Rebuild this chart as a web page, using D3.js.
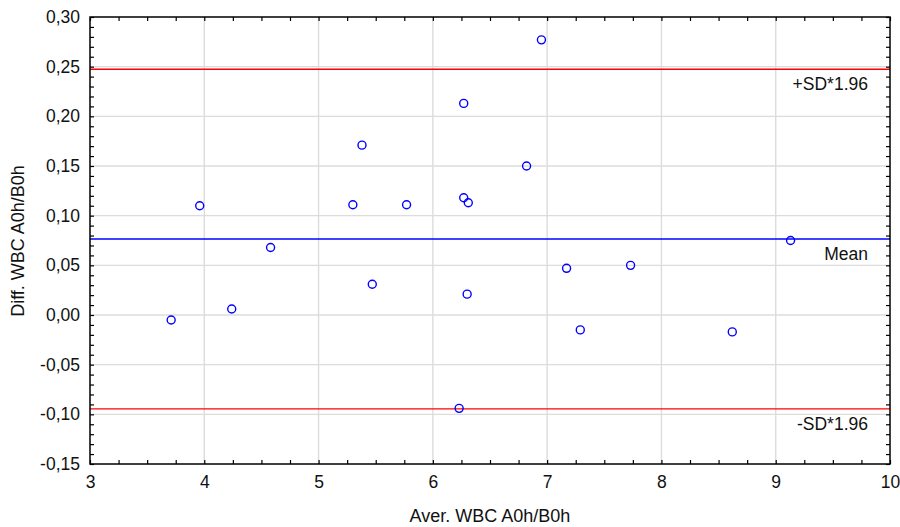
<!DOCTYPE html>
<html>
<head>
<meta charset="utf-8">
<script src="https://cdn.jsdelivr.net/npm/d3@7"></script>
<style>
  html, body { margin: 0; padding: 0; background: #fff; }
  svg { display: block; font-family: "Liberation Sans", Arial, sans-serif; }
</style>
</head>
<body>
<div id="chart"></div>
<script>
// ---- Data ----
const averWBC = [3.71, 3.96, 4.24, 4.58, 5.30, 5.38, 5.47, 5.77, 6.23, 6.27,
                 6.27, 6.31, 6.30, 6.82, 6.95, 7.17, 7.29, 7.73, 8.62, 9.13];
const diffWBC = [-0.005, 0.110, 0.006, 0.068, 0.111, 0.171, 0.031, 0.111, -0.094, 0.213,
                 0.118, 0.113, 0.021, 0.150, 0.277, 0.047, -0.015, 0.050, -0.017, 0.075];
const refLabels = ['+SD*1.96', 'Mean', '-SD*1.96'];
const refValues = [0.2474, 0.0765, -0.0945];
const refColors = ['#ff0000', '#0000ff', '#ff0000'];
const xTicks = [3, 4, 5, 6, 7, 8, 9, 10];
const yTicks = [-0.15, -0.10, -0.05, 0.00, 0.05, 0.10, 0.15, 0.20, 0.25, 0.30];
const xTitle = 'Aver. WBC A0h/B0h';
const yTitle = 'Diff. WBC A0h/B0h';

const W = 900, H = 527;
const margin = { top: 17, right: 10, bottom: 63, left: 90 };
const iw = W - margin.left - margin.right;
const ih = H - margin.top - margin.bottom;

const svg = d3.select('#chart').append('svg').attr('width', W).attr('height', H);
const g = svg.append('g').attr('transform', `translate(${margin.left},${margin.top})`);

const x = d3.scaleLinear().domain([3, 10]).range([0, iw]);
const y = d3.scaleLinear().domain([-0.15, 0.30]).range([ih, 0]);

const fmt = d => d3.format('.2f')(d).replace('.', ',').replace('−', '-');
const FS = '17.5px';

// ---- Grid ----
g.append('g').selectAll('line').data(xTicks.slice(1, -1)).join('line')
  .attr('x1', d => x(d)).attr('x2', d => x(d)).attr('y1', 0).attr('y2', ih)
  .attr('stroke', '#dcdcdc').attr('stroke-width', 1.4);
g.append('g').selectAll('line').data(yTicks.slice(1, -1)).join('line')
  .attr('x1', 0).attr('x2', iw).attr('y1', d => y(d)).attr('y2', d => y(d))
  .attr('stroke', '#dcdcdc').attr('stroke-width', 1.4);

// ---- Reference lines ----
g.append('g').selectAll('line').data(refValues).join('line')
  .attr('x1', 0).attr('x2', iw).attr('y1', d => y(d)).attr('y2', d => y(d))
  .attr('stroke', (_, i) => refColors[i]).attr('stroke-width', 1.3);
g.append('g').selectAll('text').data(refValues).join('text')
  .attr('x', iw - 22).attr('y', d => y(d) + 21)
  .attr('text-anchor', 'end').attr('font-size', FS).attr('fill', '#111')
  .text((_, i) => refLabels[i]);

// ---- Axes (ticks inside, on all four sides) ----
const xMinor = d3.range(3, 10.001, 0.25);
const yMinor = d3.range(-0.15, 0.3001, 0.01);
const tickCfg = [
  { axis: d3.axisBottom(x), tr: `translate(0,${ih})`, k: 'x' },
  { axis: d3.axisTop(x), tr: 'translate(0,0)', k: 'x' },
  { axis: d3.axisLeft(y), tr: 'translate(0,0)', k: 'y' },
  { axis: d3.axisRight(y), tr: `translate(${iw},0)`, k: 'y' }
];
tickCfg.forEach(c => {
  g.append('g').attr('transform', c.tr)
    .call(c.axis.tickValues(c.k === 'x' ? xMinor : yMinor).tickSizeInner(-4).tickSizeOuter(0).tickFormat(''))
    .call(a => a.select('.domain').remove())
    .call(a => a.selectAll('line').attr('stroke', '#000').attr('stroke-width', 1.2));
});

// Tick labels
g.append('g').attr('transform', `translate(0,${ih})`)
  .call(d3.axisBottom(x).tickValues(xTicks).tickSize(0).tickPadding(12).tickFormat(d3.format('d')))
  .call(a => a.select('.domain').remove())
  .call(a => a.selectAll('text').attr('font-size', FS).attr('font-family', 'Liberation Sans, Arial, sans-serif').attr('fill', '#111'));
g.append('g')
  .call(d3.axisLeft(y).tickValues(yTicks).tickSize(0).tickPadding(10).tickFormat(fmt))
  .call(a => a.select('.domain').remove())
  .call(a => a.selectAll('text').attr('font-size', FS).attr('font-family', 'Liberation Sans, Arial, sans-serif').attr('fill', '#111'));

// Frame
g.append('rect').attr('width', iw).attr('height', ih)
  .attr('fill', 'none').attr('stroke', '#000').attr('stroke-width', 1.5);

// ---- Points ----
g.append('g').selectAll('circle').data(averWBC).join('circle')
  .attr('cx', d => x(d)).attr('cy', (_, i) => y(diffWBC[i]))
  .attr('r', 4).attr('fill', 'none').attr('stroke', '#0000ff').attr('stroke-width', 1.4);

// ---- Axis titles ----
svg.append('text').attr('x', margin.left + iw / 2).attr('y', 522)
  .attr('text-anchor', 'middle').attr('font-size', '18px').attr('fill', '#111').text(xTitle);
svg.append('text').attr('transform', 'translate(24,241) rotate(-90)')
  .attr('text-anchor', 'middle').attr('font-size', '18px').attr('fill', '#111').text(yTitle);
</script>
</body>
</html>
